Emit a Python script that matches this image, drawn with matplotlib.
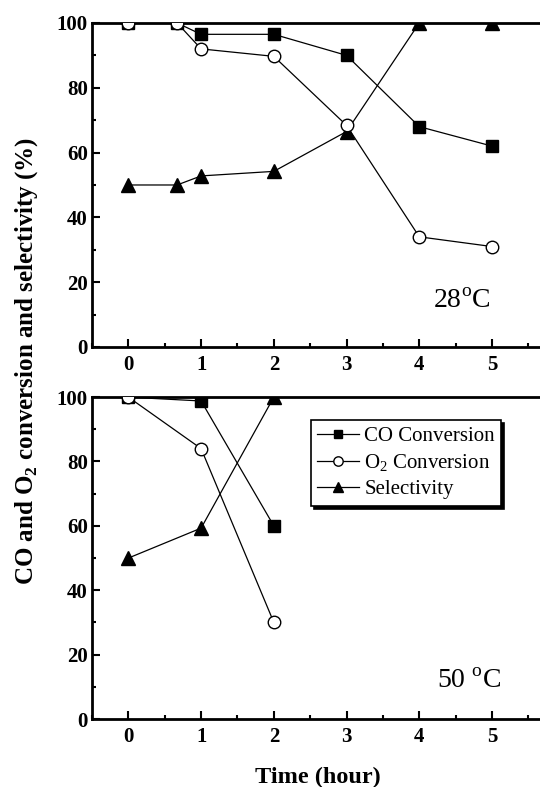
import matplotlib
matplotlib.use('Agg')
import matplotlib.pyplot as plt
from matplotlib.ticker import MultipleLocator

plt.rcParams['font.family'] = 'Liberation Serif'
plt.rcParams['mathtext.fontset'] = 'custom'
plt.rcParams['mathtext.rm'] = 'Liberation Serif'
plt.rcParams['mathtext.bf'] = 'Liberation Serif:bold'

# datos a 28 C
t28 = [0, 0.67, 1, 2, 3, 4, 5]
co28 = [100, 100, 96.5, 96.5, 90, 68, 62]
o2_28 = [100, 100, 92, 89.7, 68.4, 34, 31]
sel28 = [50, 50, 52.8, 54.2, 66.5, 100, 100]

# datos a 50 C
t50 = [0, 1, 2]
co50 = [100, 98.8, 60]
o2_50 = [100, 84, 30]
sel50 = [50, 59.3, 100]

xticks = [0, 1, 2, 3, 4, 5]
yticks = [0, 20, 40, 60, 80, 100]

fig = plt.figure(figsize=(5.4, 7.87), dpi=100)
ax1 = fig.add_axes([0.1704, 0.5591, 0.835, 0.4117])
ax2 = fig.add_axes([0.1704, 0.0864, 0.835, 0.409])

def dibujar(ax, t, co, o2, sel, etiqueta, pos):
    ax.plot(t, co, '-s', color='black', lw=0.9, ms=8.5, mfc='black', label='CO Conversion', zorder=3)
    ax.plot(t, o2, '-o', color='black', lw=0.9, ms=9, mfc='white', mew=1.0, label='O$_2$ Conversion', zorder=4)
    ax.plot(t, sel, '-^', color='black', lw=0.9, ms=10, mfc='black', label='Selectivity', zorder=3)
    ax.set_xlim(-0.5, 5.7)
    ax.set_ylim(0, 100)
    ax.set_xticks(xticks)
    ax.set_yticks(yticks)
    ax.xaxis.set_minor_locator(MultipleLocator(0.5))
    ax.yaxis.set_minor_locator(MultipleLocator(10))
    ax.tick_params(which='major', direction='in', length=6, width=1.5, labelsize=15)
    ax.tick_params(axis='x', which='major', pad=6)
    ax.tick_params(axis='y', which='major', pad=3)
    ax.tick_params(which='minor', direction='in', length=3, width=1.5)
    for lab in ax.get_xticklabels() + ax.get_yticklabels():
        lab.set_fontweight('bold')
    for sp in ax.spines.values():
        sp.set_linewidth(2)
    ax.text(pos[0], pos[1], etiqueta, fontsize=20, transform=ax.transData, ha='left', va='baseline')

dibujar(ax1, t28, co28, o2_28, sel28, r'28$^\mathrm{o}$C', (4.19, 12))
dibujar(ax2, t50, co50, o2_50, sel50, r'50 $^\mathrm{o}$C', (4.24, 9.6))

leg = ax2.legend(loc='upper left', bbox_to_anchor=(0.486, 0.929), frameon=True, fancybox=False,
                 shadow={'color': 'black', 'alpha': 1}, edgecolor='black', fontsize=15,
                 handlelength=2.0, handletextpad=0.25, borderpad=0.3, borderaxespad=0,
                 labelspacing=0.3, markerscale=0.75)
leg.get_frame().set_linewidth(1.2)
leg.get_frame().set_alpha(1)

ax2.set_xlabel('Time (hour)', fontsize=17.5, fontweight='bold', labelpad=14)
fig.text(0.05, 0.541, r'CO and O$_\mathbf{2}$ conversion and selectivity (%)', rotation=90,
         fontsize=18, fontweight='bold', ha='center', va='center')

plt.savefig('out.png', dpi=100)
